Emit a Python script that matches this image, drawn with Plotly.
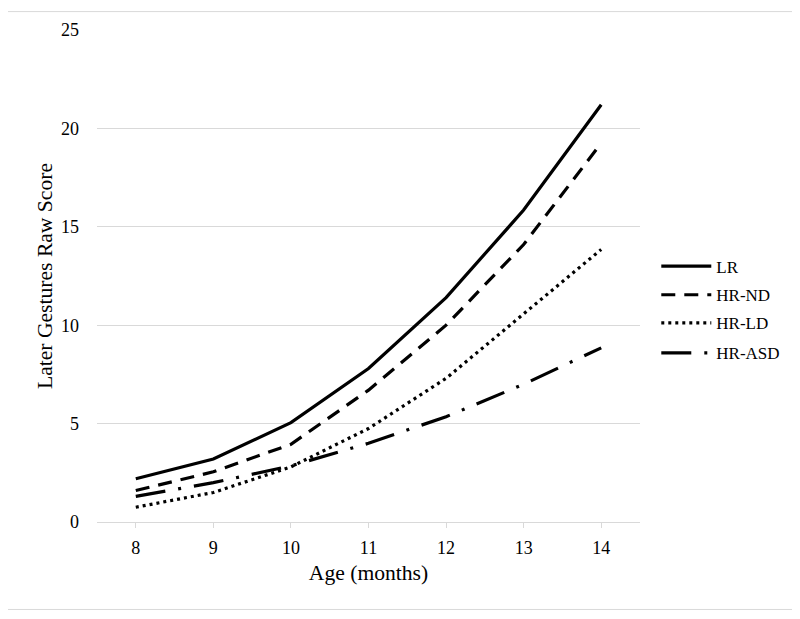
import plotly.graph_objects as go

ages = [8, 9, 10, 11, 12, 13, 14]
lr = [2.2, 3.2, 5.05, 7.8, 11.4, 15.85, 21.2]
hr_nd = [1.6, 2.55, 3.95, 6.7, 10.0, 14.1, 19.25]
hr_ld = [0.75, 1.5, 2.8, 4.75, 7.3, 10.6, 13.85]
hr_asd = [1.3, 2.0, 2.85, 4.0, 5.35, 7.0, 8.85]
y_ticks = [0, 5, 10, 15, 20, 25]

FONT = "Liberation Serif, Times New Roman, serif"

fig = go.Figure()
series = [
    ("LR", lr, "solid", "legend", 0.519),
    ("HR-ND", hr_nd, "14px,9px", "legend2", 0.461),
    ("HR-LD", hr_ld, "3px,4px", "legend3", 0.404),
    ("HR-ASD", hr_asd, "30px,13px,3px,13px", "legend4", 0.343),
]
legends = {}
for name, vals, dash, lg, ly in series:
    fig.add_trace(go.Scatter(x=ages, y=vals, name=name, mode="lines", legend=lg,
                             line=dict(color="black", width=3.2, dash=dash)))
    legends[lg] = dict(x=1.030, y=ly, xanchor="left", yanchor="middle",
                       font=dict(family=FONT, size=17, color="black"),
                       itemwidth=50, bgcolor="rgba(0,0,0,0)")

fig.add_shape(type="rect", xref="paper", yref="paper",
              x0=-0.1654, x1=1.299, y0=-0.1778, y1=1.0374,
              line=dict(color="#d9d9d9", width=1), layer="below")

fig.update_layout(
    width=792, height=611,
    margin=dict(l=89, r=160, t=19, b=97),
    paper_bgcolor="white", plot_bgcolor="white",
    font=dict(family=FONT, size=18, color="black"),
    showlegend=True,
    xaxis=dict(range=[7.5, 14.5], tickvals=ages, showgrid=False,
               showline=True, linecolor="#d9d9d9", linewidth=1,
               ticks="outside", ticklen=5, tickcolor="#d9d9d9",
               zeroline=False, ticklabelstandoff=4,
               title=dict(text="Age (months)", font=dict(size=21.6), standoff=8)),
    yaxis=dict(range=[0, 25], tickvals=y_ticks, showgrid=True,
               gridcolor="#d9d9d9", gridwidth=1, zeroline=False,
               showline=False, ticks="", ticklabelstandoff=17,
               title=dict(text="Later Gestures Raw Score", font=dict(size=21.6), standoff=2)),
    **legends,
)

fig.write_html("out.html")
